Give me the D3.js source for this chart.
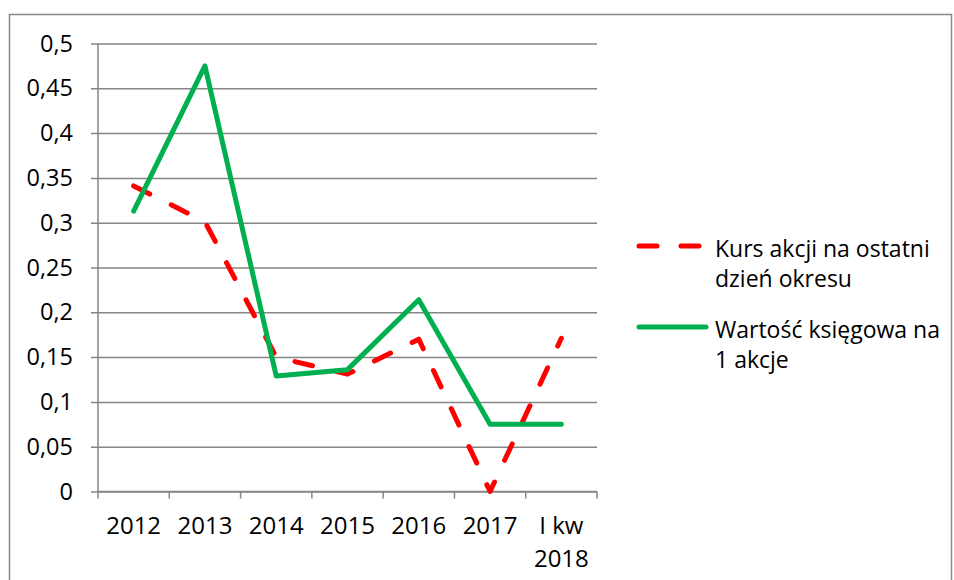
<!DOCTYPE html>
<html>
<head>
<meta charset="utf-8">
<script src="https://cdn.jsdelivr.net/npm/d3@7"></script>
<style>
  body { margin: 0; background: #fff; }
  text { font-family: "Open Sans", sans-serif; fill: #000; }
</style>
</head>
<body>
<div id="chart"></div>
<script>
// data
var categories = ["2012", "2013", "2014", "2015", "2016", "2017", "I kw\n2018"];
var kurs = [0.341, 0.301, 0.150, 0.131, 0.170, 0.0, 0.171];
var wartosc = [0.313, 0.475, 0.129, 0.136, 0.214, 0.075, 0.075];
var yTicks = [0, 0.05, 0.1, 0.15, 0.2, 0.25, 0.3, 0.35, 0.4, 0.45, 0.5];
var seriesNames = ["Kurs akcji na ostatni\ndzień okresu", "Wartość księgowa na\n1 akcje"];

var W = 954, H = 580;
var margin = {top: 43.5, left: 98},
    width = 499,
    height = 448;

var root = d3.select("#chart").append("svg")
    .attr("width", W)
    .attr("height", H);

// outer frame
root.append("rect")
    .attr("x", 9.5).attr("y", 14.5)
    .attr("width", 942).attr("height", 570)
    .attr("fill", "none")
    .attr("stroke", "#898989")
    .attr("stroke-width", 1.5);

var svg = root.append("g")
    .attr("transform", "translate(" + margin.left + "," + margin.top + ")");

var x = d3.scaleBand()
    .domain(categories)
    .range([0, width])
    .padding(0);

var y = d3.scaleLinear()
    .domain([0, 0.5])
    .range([height, 0]);

var fmt = function(d) { return String(d).replace(".", ","); };

// Y axis with gridlines
var yAxis = svg.append("g")
    .call(d3.axisLeft(y).tickValues(yTicks).tickSize(-width).tickSizeOuter(0).tickFormat(fmt).tickPadding(25));
yAxis.select(".domain").remove();
yAxis.selectAll(".tick line")
    .attr("x1", -7)
    .attr("stroke", "#868686")
    .attr("stroke-width", 1.5);
yAxis.selectAll(".tick text")
    .attr("font-size", 23.5)
    .attr("font-family", "Open Sans, sans-serif")
    .attr("fill", "#000");

// vertical axis line
svg.append("line")
    .attr("x1", 0).attr("x2", 0)
    .attr("y1", 0).attr("y2", height)
    .attr("stroke", "#868686")
    .attr("stroke-width", 1.5);

// X axis: ticks between categories
var xAxis = svg.append("g")
    .attr("transform", "translate(0," + height + ")");
xAxis.append("line")
    .attr("x1", 0).attr("x2", width)
    .attr("stroke", "#868686")
    .attr("stroke-width", 1.5);
xAxis.selectAll(".tk")
    .data(categories.concat(["end"]))
    .enter().append("line")
      .attr("x1", function(d, i) { return i * x.step(); })
      .attr("x2", function(d, i) { return i * x.step(); })
      .attr("y1", 0).attr("y2", 7)
      .attr("stroke", "#868686")
      .attr("stroke-width", 1.5);
xAxis.selectAll(".lbl")
    .data(categories)
    .enter().append("text")
      .attr("text-anchor", "middle")
      .attr("font-size", 24)
      .attr("transform", function(d) { return "translate(" + (x(d) + x.bandwidth() / 2) + ",42)"; })
      .selectAll("tspan")
      .data(function(d) { return d.split("\n"); })
      .enter().append("tspan")
        .attr("x", 0)
        .attr("dy", function(d, i) { return i ? 33 : 0; })
        .text(function(d) { return d; });

var line = d3.line()
    .x(function(d, i) { return x(categories[i]) + x.bandwidth() / 2; })
    .y(function(d) { return y(d); });

svg.append("path")
    .datum(kurs)
    .attr("fill", "none")
    .attr("stroke", "#ff0000")
    .attr("stroke-width", 5)
    .attr("stroke-linecap", "round")
    .attr("stroke-linejoin", "round")
    .attr("stroke-dasharray", "18,24")
    .attr("d", line);

svg.append("path")
    .datum(wartosc)
    .attr("fill", "none")
    .attr("stroke", "#00b050")
    .attr("stroke-width", 5)
    .attr("stroke-linecap", "round")
    .attr("stroke-linejoin", "round")
    .attr("d", line);

// legend
var legend = root.append("g");
var legItems = [
  {name: seriesNames[0], color: "#ff0000", dash: "18,24", y: 246},
  {name: seriesNames[1], color: "#00b050", dash: null, y: 327}
];
legItems.forEach(function(it) {
  legend.append("line")
    .attr("x1", 639).attr("x2", 706)
    .attr("y1", it.y).attr("y2", it.y)
    .attr("stroke", it.color)
    .attr("stroke-width", 5)
    .attr("stroke-linecap", "round")
    .attr("stroke-dasharray", it.dash);
  legend.append("text")
    .attr("font-size", 23)
    .attr("transform", "translate(715," + (it.y + 11) + ")")
    .selectAll("tspan")
    .data(it.name.split("\n"))
    .enter().append("tspan")
      .attr("x", 0)
      .attr("dy", function(d, i) { return i ? 30 : 0; })
      .text(function(d) { return d; });
});
</script>
</body>
</html>
